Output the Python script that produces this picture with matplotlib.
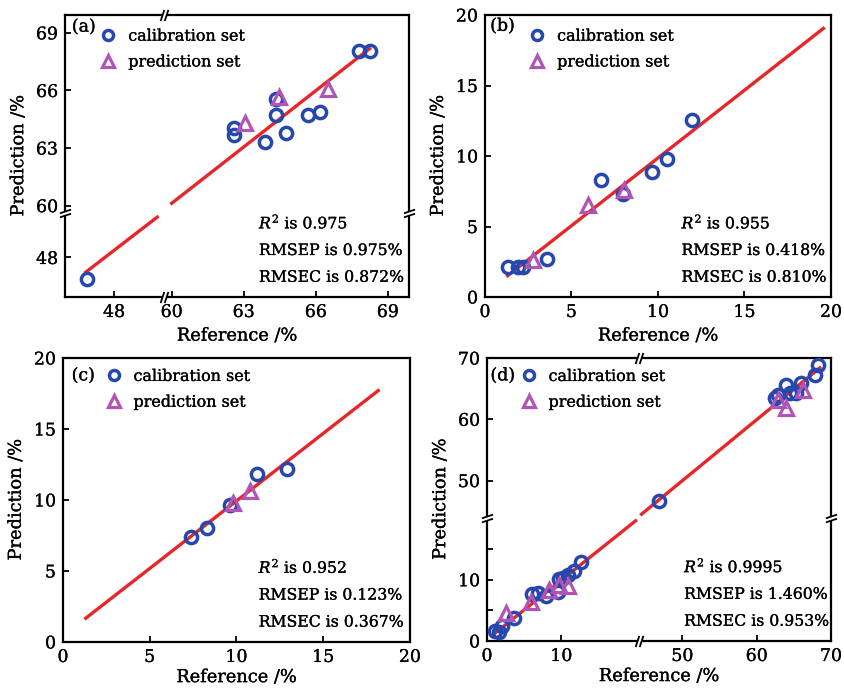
import numpy as np
import matplotlib
matplotlib.use('Agg')
import matplotlib.pyplot as plt
import matplotlib.patheffects as pe
from matplotlib.path import Path

plt.rcParams['font.family'] = ['DejaVu Serif']
plt.rcParams['mathtext.fontset'] = 'dejavuserif'

BLUE = '#2647ad'
PURPLE = '#b055b5'
RED = '#e8262a'

# (a)
a_cal_x = [46.88, 62.6, 62.6, 63.87, 64.36, 64.36, 64.77, 65.67, 66.16, 67.79, 68.24]
a_cal_y = [46.87, 64.03, 63.69, 63.34, 64.71, 65.57, 63.8, 64.71, 64.89, 68.03, 68.03]
a_pre_x = [63.04, 64.47, 66.5]
a_pre_y = [64.29, 65.66, 66.09]
a_fit_x = [46.82, 68.24]
a_fit_y = [47.23, 68.18]
a_stats = ['0.975', '0.975%', '0.872%']

# (b)
b_cal_x = [1.31, 1.93, 2.2, 3.56, 6.69, 8.0, 9.63, 10.5, 11.98]
b_cal_y = [2.13, 2.13, 2.1, 2.67, 8.28, 7.34, 8.88, 9.82, 12.54]
b_pre_x = [2.76, 5.97, 8.05]
b_pre_y = [2.65, 6.51, 7.57]
b_fit_x = [1.31, 19.56]
b_fit_y = [1.51, 19.05]
b_stats = ['0.955', '0.418%', '0.810%']

# (c)
c_cal_x = [7.4, 8.31, 9.62, 11.2, 12.92]
c_cal_y = [7.36, 8.06, 9.63, 11.82, 12.17]
c_pre_x = [9.8, 10.8]
c_pre_y = [9.82, 10.65]
c_fit_x = [1.31, 18.17]
c_fit_y = [1.67, 17.7]
c_stats = ['0.952', '0.123%', '0.367%']

# (d)
d_cal_x = [1.1, 1.6, 2.0, 3.6, 6.0, 6.8, 7.9, 9.5, 9.7, 10.2, 10.9, 11.7, 12.7,
           46.8, 62.5, 62.9, 64.0, 64.5, 65.3, 66.0, 67.8, 68.3]
d_cal_y = [1.7, 1.4, 2.5, 3.8, 7.6, 7.8, 7.3, 8.0, 10.2, 10.3, 10.8, 11.4, 12.9,
           46.7, 63.4, 64.0, 65.6, 64.3, 64.3, 65.9, 67.3, 68.8]
d_pre_x = [2.5, 5.9, 8.3, 9.7, 10.9, 62.8, 63.9, 66.2]
d_pre_y = [4.5, 6.4, 8.3, 9.1, 8.9, 63.1, 61.9, 64.8]
d_fit_x = [1.14, 68.5]
d_fit_y = [1.34, 68.4]
d_stats = ['0.9995', '1.460%', '0.953%']


def brk_funcs(lo, hi, g):
    # piecewise linear scale that squeezes (lo, hi) into a gap of width g
    big = 1e4
    d = [-big, lo, hi, big]
    s = [-big, lo, lo + g, big - (hi - lo) + g]
    return (lambda v: np.interp(v, d, s)), (lambda v: np.interp(v, s, d))


MO, LI = Path.MOVETO, Path.LINETO
xb_lines = Path([(-2.1, -3), (-0.1, 3), (0.1, -3), (2.1, 3)], [MO, LI, MO, LI])
xb_rect = Path([(-1.1, -1.5), (1.1, -1.5), (1.1, 1.5), (-1.1, 1.5), (-1.1, -1.5)])
yb_lines = Path([(-3, -2.1), (3, -0.1), (-3, 0.1), (3, 2.1)], [MO, LI, MO, LI])
yb_rect = Path([(-1.5, -1.1), (1.5, -1.1), (1.5, 1.1), (-1.5, 1.1), (-1.5, -1.1)])


def break_marks(ax, xbr=None, ybr=None):
    ms = 8
    if xbr is not None:
        xm = (xbr[0] + xbr[1]) / 2
        for yy in (0, 1):
            kw = dict(transform=ax.get_xaxis_transform(), clip_on=False, zorder=6)
            ax.plot([xm], [yy], marker=xb_rect, ms=ms / 2, mfc='white', mew=0, **kw)
            ax.plot([xm], [yy], marker=xb_lines, ms=ms, mec='k', mew=1.3, **kw)
    if ybr is not None:
        ym = (ybr[0] + ybr[1]) / 2
        for xx in (0, 1):
            kw = dict(transform=ax.get_yaxis_transform(), clip_on=False, zorder=6)
            ax.plot([xx], [ym], marker=yb_rect, ms=ms / 2, mfc='white', mew=0, **kw)
            ax.plot([xx], [ym], marker=yb_lines, ms=ms, mec='k', mew=1.3, **kw)


def panel(ax, tag, cal_x, cal_y, pre_x, pre_y, fit_x, fit_y, stats,
          xlim, ylim, xticks, yticks, xbr=None, ybr=None, yminor=None,
          leg_xy=(0.1, 0.96), tag_xy=(0.02, 0.955), txt_x=0.565, xlab_y=-0.105):
    if xbr is not None:
        ax.set_xscale('function', functions=brk_funcs(*xbr))
    if ybr is not None:
        ax.set_yscale('function', functions=brk_funcs(*ybr))

    # fit line, cut at the breaks
    pieces = [(fit_x[0], fit_x[1])]
    if xbr is not None:
        pieces = [(fit_x[0], xbr[0]), (xbr[1], fit_x[1])]
    for x0, x1 in pieces:
        xs = np.array([x0, x1])
        ax.plot(xs, np.interp(xs, fit_x, fit_y), color=RED, lw=2.4, zorder=2)

    hc, = ax.plot(cal_x, cal_y, 'o', ls='none', mfc='none', mec=BLUE, mew=2.5, ms=8.8, zorder=3)
    hp, = ax.plot(pre_x, pre_y, '^', ls='none', mfc='none', mec=PURPLE, mew=2.3, ms=9.8, zorder=4)

    ax.set_xlim(*xlim)
    ax.set_ylim(*ylim)
    ax.set_xticks(xticks)
    ax.set_xticklabels([str(t) for t in xticks])
    ax.set_yticks(yticks)
    ax.set_yticklabels([str(t) for t in yticks])
    ax.xaxis.set_minor_locator(matplotlib.ticker.NullLocator())
    if yminor is not None:
        ax.set_yticks(yminor, minor=True)
    else:
        ax.yaxis.set_minor_locator(matplotlib.ticker.NullLocator())
    ax.tick_params(which='both', direction='in', length=4.5, width=1.3,
                   top=False, right=False, labelsize=12.5, pad=5)
    for sp in ax.spines.values():
        sp.set_linewidth(1.6)

    ax.set_xlabel('Reference /%', fontsize=12.8)
    ax.set_ylabel('Prediction /%', fontsize=12.8)
    ax.xaxis.set_label_coords(0.5, xlab_y)
    ax.yaxis.set_label_coords(-0.11, 0.5)

    ax.legend([hc, hp], ['calibration set', 'prediction set'], loc='upper left',
              bbox_to_anchor=leg_xy, frameon=False, fontsize=11.5, borderpad=0,
              borderaxespad=0, handlelength=0.9, handletextpad=0.8,
              labelspacing=0.55, markerscale=0.82)
    ax.text(tag_xy[0], tag_xy[1], tag, transform=ax.transAxes, fontsize=12.5, va='center')
    lines = [r'$R^2$ is ' + stats[0], 'RMSEP is ' + stats[1], 'RMSEC is ' + stats[2]]
    for yy, s in zip([0.262, 0.165, 0.07], lines):
        ax.text(txt_x, yy, s, transform=ax.transAxes, fontsize=11.3, va='center')

    break_marks(ax, xbr, ybr)


fig = plt.figure(figsize=(8.44, 6.88), dpi=100)
ax_a = fig.add_axes([0.0770, 0.5683, 0.4076, 0.4099])
ax_b = fig.add_axes([0.5746, 0.5683, 0.4100, 0.4099])
ax_c = fig.add_axes([0.0746, 0.0669, 0.4111, 0.4128])
ax_d = fig.add_axes([0.5770, 0.0683, 0.4076, 0.4113])

panel(ax_a, '(a)', a_cal_x, a_cal_y, a_pre_x, a_pre_y, a_fit_x, a_fit_y, a_stats,
      (45.96, 69.88), (45.94, 69.93), [48, 60, 63, 66, 69], [48, 60, 63, 66, 69],
      xbr=(49.8, 60.0, 0.6), ybr=(50.1, 59.85, 0.45),
      leg_xy=(0.105, 0.955), tag_xy=(0.02, 0.957), txt_x=0.564)
panel(ax_b, '(b)', b_cal_x, b_cal_y, b_pre_x, b_pre_y, b_fit_x, b_fit_y, b_stats,
      (0, 20), (0, 20), [0, 5, 10, 15, 20], [0, 5, 10, 15, 20],
      leg_xy=(0.13, 0.955), tag_xy=(0.015, 0.96), txt_x=0.568)
panel(ax_c, '(c)', c_cal_x, c_cal_y, c_pre_x, c_pre_y, c_fit_x, c_fit_y, c_stats,
      (0, 20), (0, 20), [0, 5, 10, 15, 20], [0, 5, 10, 15, 20],
      leg_xy=(0.125, 0.965), tag_xy=(0.025, 0.937), txt_x=0.564, xlab_y=-0.092)
panel(ax_d, '(d)', d_cal_x, d_cal_y, d_pre_x, d_pre_y, d_fit_x, d_fit_y, d_stats,
      (0, 70), (0, 70), [0, 10, 50, 60, 70], [0, 10, 50, 60, 70],
      xbr=(20.0, 44.5, 0.8), ybr=(19.6, 44.5, 1.1), yminor=[5, 15],
      leg_xy=(0.1, 0.965), tag_xy=(0.01, 0.937), txt_x=0.573, xlab_y=-0.092)

# the printed figure uses a heavier serif face; thicken the glyphs a little
for t in fig.findobj(matplotlib.text.Text):
    t.set_path_effects([pe.withStroke(linewidth=0.2, foreground='black')])

fig.savefig('out.png', dpi=100)
